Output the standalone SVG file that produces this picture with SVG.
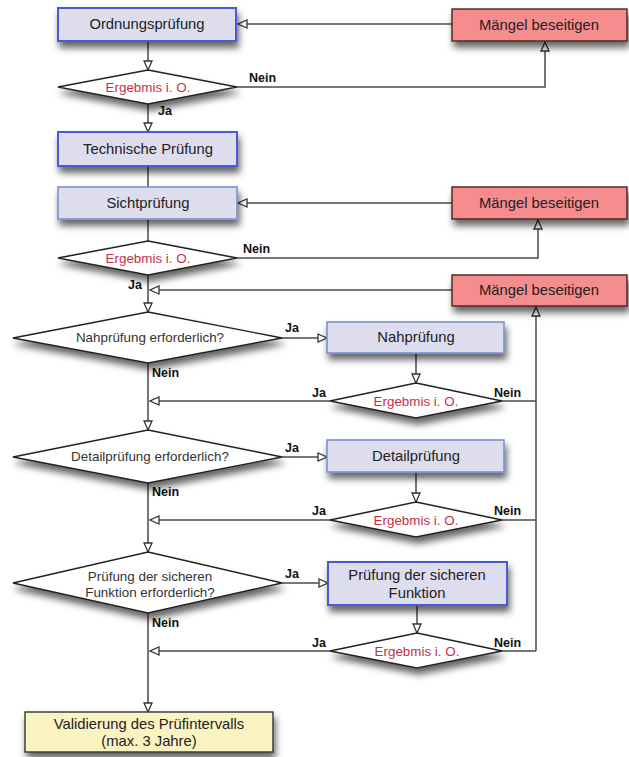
<svg xmlns="http://www.w3.org/2000/svg" width="629" height="757" viewBox="0 0 629 757">
<style>
.bg{fill:#ffffff}
.box{fill:#dddded;stroke:#4a5ad8;stroke-width:2}
.box2{fill:#dddded;stroke:#7e8fd6;stroke-width:1.6}
.red{fill:#f58c8e;stroke:#4a2222;stroke-width:1.4}
.yel{fill:#fbf4c2;stroke:#333;stroke-width:1.4}
.dia{fill:#ffffff;stroke:#222;stroke-width:1.4}
.t{font-family:"Liberation Sans",Arial,sans-serif;font-size:14.8px;fill:#222;text-anchor:middle}
.tq{font-family:"Liberation Sans",Arial,sans-serif;font-size:13.4px;fill:#333;text-anchor:middle}
.te{font-family:"Liberation Sans",Arial,sans-serif;font-size:13.4px;fill:#c3304d;text-anchor:middle}
.lb{font-family:"Liberation Sans",Arial,sans-serif;font-size:12.5px;font-weight:bold;fill:#111}
.c{fill:none;stroke:#4a4a4a;stroke-width:1.5}
</style>
<defs>
<marker id="a" markerWidth="12" markerHeight="10" refX="10" refY="5" orient="auto" markerUnits="userSpaceOnUse">
<path d="M1,1 L10,5 L1,9 Z" fill="#fff" stroke="#333" stroke-width="1.3"/>
</marker>
<filter id="sh" x="-20%" y="-30%" width="140%" height="190%">
<feDropShadow dx="2" dy="6" stdDeviation="3.5" flood-color="#000" flood-opacity="0.6"/>
</filter>
</defs>
<rect class="bg" x="0" y="0" width="629" height="757"/>

<g id="connectors">
<path class="c" d="M452,24 H238" marker-end="url(#a)"/>
<path class="c" d="M148,41 V70" marker-end="url(#a)"/>
<path class="c" d="M237,87 H545 V42" marker-end="url(#a)"/>
<path class="c" d="M148,104 V132" marker-end="url(#a)"/>
<path class="c" d="M148,166 V187"/>
<path class="c" d="M452,203 H238" marker-end="url(#a)"/>
<path class="c" d="M148,219 V241"/>
<path class="c" d="M237,258 H538 V220" marker-end="url(#a)"/>
<path class="c" d="M148,275 V312" marker-end="url(#a)"/>
<path class="c" d="M452,290 H150" marker-end="url(#a)"/>
<path class="c" d="M282,338 H327" marker-end="url(#a)"/>
<path class="c" d="M416,353 V383" marker-end="url(#a)"/>
<path class="c" d="M330,401 H150" marker-end="url(#a)"/>
<path class="c" d="M148,363 V430" marker-end="url(#a)"/>
<path class="c" d="M502,401 H536"/>
<path class="c" d="M536,651 V307" marker-end="url(#a)"/>
<path class="c" d="M282,457 H327" marker-end="url(#a)"/>
<path class="c" d="M416,472 V502" marker-end="url(#a)"/>
<path class="c" d="M330,520 H150" marker-end="url(#a)"/>
<path class="c" d="M502,520 H536"/>
<path class="c" d="M148,483 V552" marker-end="url(#a)"/>
<path class="c" d="M282,583 H328" marker-end="url(#a)"/>
<path class="c" d="M417,605 V633" marker-end="url(#a)"/>
<path class="c" d="M330,651 H150" marker-end="url(#a)"/>
<path class="c" d="M502,651 H536"/>
<path class="c" d="M148,613 V712" marker-end="url(#a)"/>
</g>

<g id="labels">
<text class="lb" x="249" y="82">Nein</text>
<text class="lb" x="158" y="115">Ja</text>
<text class="lb" x="243" y="253">Nein</text>
<text class="lb" x="128" y="289">Ja</text>
<text class="lb" x="285" y="332">Ja</text>
<text class="lb" x="152" y="377">Nein</text>
<text class="lb" x="312" y="397">Ja</text>
<text class="lb" x="494" y="397">Nein</text>
<text class="lb" x="285" y="452">Ja</text>
<text class="lb" x="152" y="496">Nein</text>
<text class="lb" x="312" y="515">Ja</text>
<text class="lb" x="494" y="515">Nein</text>
<text class="lb" x="285" y="578">Ja</text>
<text class="lb" x="152" y="627">Nein</text>
<text class="lb" x="312" y="647">Ja</text>
<text class="lb" x="494" y="647">Nein</text>
</g>

<g id="ordnungspruefung">
<rect class="box" x="58" y="8" width="178" height="33" filter="url(#sh)"/>
<text class="t" x="147" y="29">Ordnungsprüfung</text>
</g>
<g id="maengel1">
<rect class="red" x="452" y="9" width="175" height="32" filter="url(#sh)"/>
<text class="t" x="539" y="30">Mängel beseitigen</text>
</g>
<g id="ergebnis1">
<polygon class="dia" points="148,70 237,87 148,104 58,87" filter="url(#sh)"/>
<text class="te" x="148" y="92">Ergebmis i. O.</text>
</g>
<g id="technische">
<rect class="box" x="58" y="132" width="179" height="34" filter="url(#sh)"/>
<text class="t" x="148" y="154">Technische Prüfung</text>
</g>
<g id="sichtpruefung">
<rect class="box2" x="58" y="187" width="179" height="32" filter="url(#sh)"/>
<text class="t" x="148" y="208">Sichtprüfung</text>
</g>
<g id="maengel2">
<rect class="red" x="452" y="187" width="175" height="32" filter="url(#sh)"/>
<text class="t" x="539" y="208">Mängel beseitigen</text>
</g>
<g id="ergebnis2">
<polygon class="dia" points="148,241 237,258 148,275 58,258" filter="url(#sh)"/>
<text class="te" x="148" y="263">Ergebmis i. O.</text>
</g>
<g id="maengel3">
<rect class="red" x="452" y="275" width="175" height="31" filter="url(#sh)"/>
<text class="t" x="539" y="295">Mängel beseitigen</text>
</g>
<g id="nah_frage">
<polygon class="dia" points="148,312 282,338 148,363 13,338" filter="url(#sh)"/>
<text class="tq" x="150" y="342">Nahprüfung erforderlich?</text>
</g>
<g id="nahpruefung">
<rect class="box2" x="327" y="322" width="177" height="31" filter="url(#sh)"/>
<text class="t" x="416" y="342">Nahprüfung</text>
</g>
<g id="ergebnis3">
<polygon class="dia" points="416,383 502,401 416,418 330,401" filter="url(#sh)"/>
<text class="te" x="416" y="406">Ergebmis i. O.</text>
</g>
<g id="detail_frage">
<polygon class="dia" points="148,430 282,457 148,483 13,457" filter="url(#sh)"/>
<text class="tq" x="150" y="461">Detailprüfung erforderlich?</text>
</g>
<g id="detailpruefung">
<rect class="box2" x="327" y="440" width="177" height="32" filter="url(#sh)"/>
<text class="t" x="416" y="461">Detailprüfung</text>
</g>
<g id="ergebnis4">
<polygon class="dia" points="416,502 502,520 416,537 330,520" filter="url(#sh)"/>
<text class="te" x="416" y="525">Ergebmis i. O.</text>
</g>
<g id="funktion_frage">
<polygon class="dia" points="148,552 282,583 148,613 13,583" filter="url(#sh)"/>
<text class="tq" x="150" y="581">Prüfung der sicheren</text>
<text class="tq" x="150" y="597">Funktion erforderlich?</text>
</g>
<g id="funktionspruefung">
<rect class="box" x="328" y="562" width="179" height="43" filter="url(#sh)"/>
<text class="t" x="417" y="580">Prüfung der sicheren</text>
<text class="t" x="417" y="598">Funktion</text>
</g>
<g id="ergebnis5">
<polygon class="dia" points="417,633 502,651 417,668 330,651" filter="url(#sh)"/>
<text class="te" x="417" y="656">Ergebmis i. O.</text>
</g>
<g id="validierung">
<rect class="yel" x="25" y="712" width="248" height="40" filter="url(#sh)"/>
<text class="t" x="149" y="729">Validierung des Prüfintervalls</text>
<text class="t" x="149" y="746">(max. 3 Jahre)</text>
</g>
</svg>
